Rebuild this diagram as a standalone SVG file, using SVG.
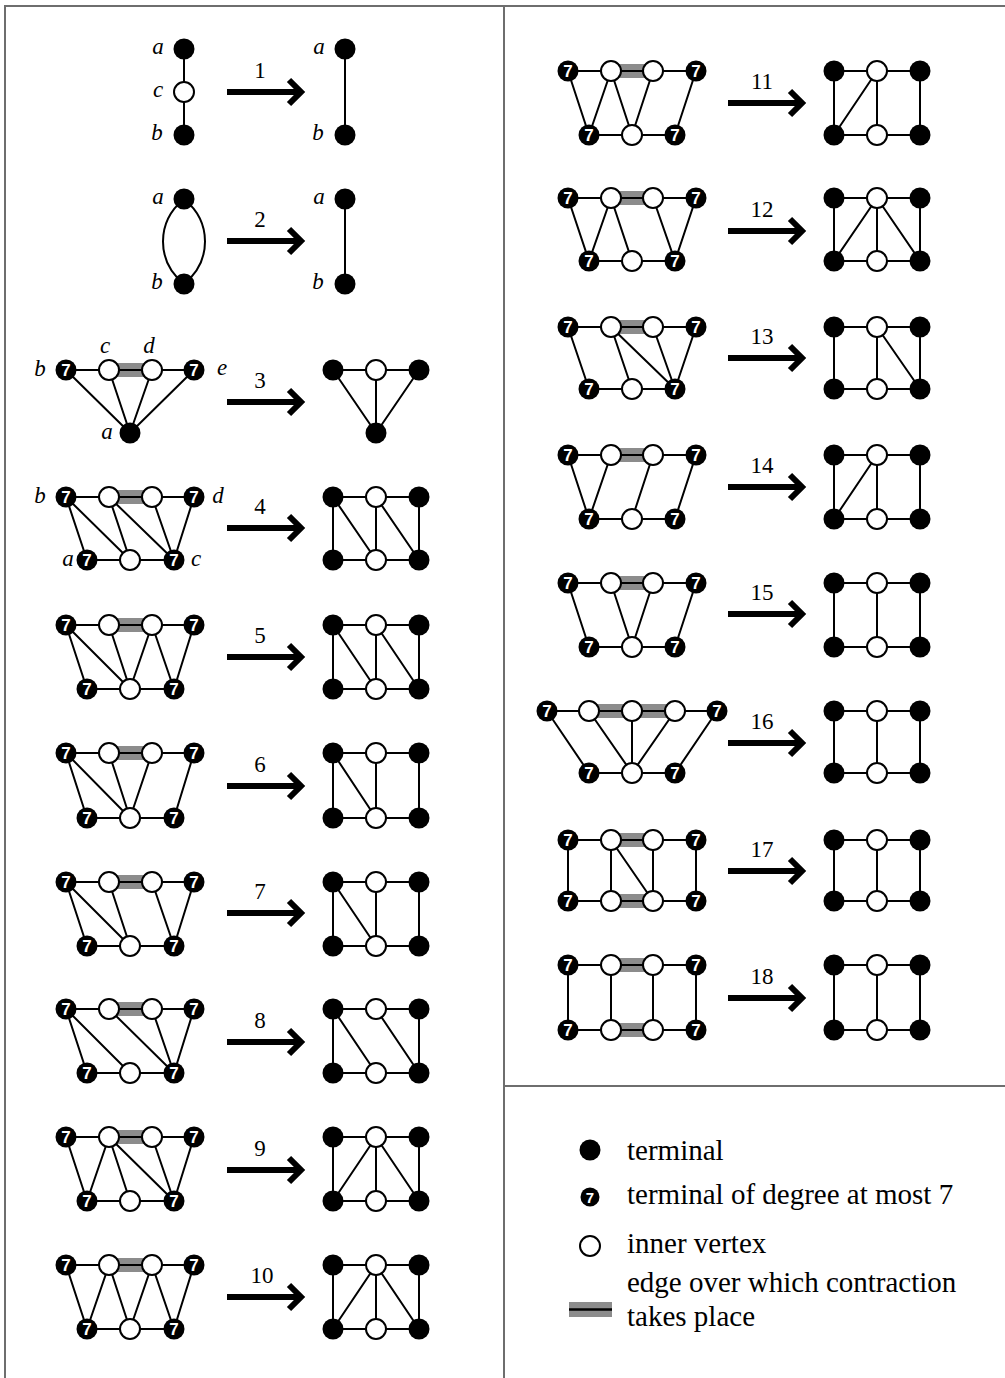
<svg xmlns="http://www.w3.org/2000/svg" xmlns:xlink="http://www.w3.org/1999/xlink" width="1005" height="1378" viewBox="0 0 1005 1378">
<style>
  .frame { fill: none; stroke: #6e6e6e; stroke-width: 2; }
  .ed { fill: none; stroke: #000; stroke-width: 2; }
  .band { fill: #8c8c8c; }
  .ar { fill: none; stroke: #000; stroke-width: 6; stroke-linejoin: miter; }
  .k circle { fill: #000; }
  .w circle { fill: #fff; stroke: #000; stroke-width: 2; }
  .k7 circle { fill: #000; }
  .k7 text { fill: #fff; font-family: "Liberation Sans", Arial, sans-serif; font-weight: bold; font-size: 17px; text-anchor: middle; }
  .num { font-family: "Liberation Serif", "Times New Roman", serif; font-size: 23px; text-anchor: middle; }
  .var { font-family: "Liberation Serif", "Times New Roman", serif; font-style: italic; font-size: 23px; text-anchor: middle; }
  .leg { font-family: "Liberation Serif", "Times New Roman", serif; font-size: 29px; }
</style>
<defs>
  <g id="arr"><path class="ar" d="M0,0H71 M62,-12L74,0L62,12"/></g>
</defs>
<rect width="1005" height="1378" fill="#fff"/>
<path class="frame" d="M5,1378V6H1005 M504,6V1378 M504,1086H1005"/>

<!-- edges and contraction bands -->
<g id="connectors">
  <!-- rule 1 -->
  <path class="ed" d="M184,49V135 M345,49V135"/>
  <!-- rule 2 -->
  <path class="ed" d="M184,199C156,222 156,261 184,284 M184,199C212,222 212,261 184,284 M345,199V284"/>
  <!-- rule 3 -->
  <rect class="band" x="109" y="363" width="43" height="14"/>
  <path class="ed" d="M66,370H194 M66,370L130,433 M109,370L130,433 M152,370L130,433 M194,370L130,433"/>
  <path class="ed" d="M333,370H419 M333,370L376,433 M376,370V433 M419,370L376,433"/>
  <!-- rule 4 -->
  <rect class="band" x="109" y="490" width="43" height="14"/>
  <path class="ed" d="M66,497H194 M87,560H174 M66,497L87,560 M66,497L130,560 M109,497L130,560 M109,497L174,560 M152,497L174,560 M194,497L174,560"/>
  <path class="ed" d="M333,497H419 M333,560H419 M333,497V560 M419,497V560 M376,497V560 M333,497L376,560 M376,497L419,560"/>
  <!-- rule 5 -->
  <rect class="band" x="109" y="618" width="43" height="14"/>
  <path class="ed" d="M66,625H194 M87,689H174 M66,625L87,689 M66,625L130,689 M109,625L130,689 M152,625L130,689 M152,625L174,689 M194,625L174,689"/>
  <path class="ed" d="M333,625H419 M333,689H419 M333,625V689 M419,625V689 M376,625V689 M333,625L376,689 M376,625L419,689"/>
  <!-- rule 6 -->
  <rect class="band" x="109" y="746" width="43" height="14"/>
  <path class="ed" d="M66,753H194 M87,818H174 M66,753L87,818 M66,753L130,818 M109,753L130,818 M152,753L130,818 M194,753L174,818"/>
  <path class="ed" d="M333,753H419 M333,818H419 M333,753V818 M419,753V818 M376,753V818 M333,753L376,818"/>
  <!-- rule 7 -->
  <rect class="band" x="109" y="875" width="43" height="14"/>
  <path class="ed" d="M66,882H194 M87,946H174 M66,882L87,946 M66,882L130,946 M109,882L130,946 M152,882L174,946 M194,882L174,946"/>
  <path class="ed" d="M333,882H419 M333,946H419 M333,882V946 M419,882V946 M376,882V946 M333,882L376,946"/>
  <!-- rule 8 -->
  <rect class="band" x="109" y="1002" width="43" height="14"/>
  <path class="ed" d="M66,1009H194 M87,1073H174 M66,1009L87,1073 M66,1009L130,1073 M109,1009L174,1073 M152,1009L174,1073 M194,1009L174,1073"/>
  <path class="ed" d="M333,1009H419 M333,1073H419 M333,1009V1073 M419,1009V1073 M333,1009L376,1073 M376,1009L419,1073"/>
  <!-- rule 9 -->
  <rect class="band" x="109" y="1130" width="43" height="14"/>
  <path class="ed" d="M66,1137H194 M87,1201H174 M66,1137L87,1201 M109,1137L87,1201 M109,1137L130,1201 M109,1137L174,1201 M152,1137L174,1201 M194,1137L174,1201"/>
  <path class="ed" d="M333,1137H419 M333,1201H419 M333,1137V1201 M419,1137V1201 M376,1137V1201 M376,1137L333,1201 M376,1137L419,1201"/>
  <!-- rule 10 -->
  <rect class="band" x="109" y="1258" width="43" height="14"/>
  <path class="ed" d="M66,1265H194 M87,1329H174 M66,1265L87,1329 M109,1265L87,1329 M109,1265L130,1329 M152,1265L130,1329 M152,1265L174,1329 M194,1265L174,1329"/>
  <path class="ed" d="M333,1265H419 M333,1329H419 M333,1265V1329 M419,1265V1329 M376,1265V1329 M376,1265L333,1329 M376,1265L419,1329"/>
  <!-- rule 11 -->
  <rect class="band" x="611" y="64" width="42" height="14"/>
  <path class="ed" d="M568,71H696 M589,135H675 M568,71L589,135 M611,71L589,135 M611,71L632,135 M653,71L632,135 M696,71L675,135"/>
  <path class="ed" d="M834,71H920 M834,135H920 M834,71V135 M920,71V135 M877,71V135 M877,71L834,135"/>
  <!-- rule 12 -->
  <rect class="band" x="611" y="191" width="42" height="14"/>
  <path class="ed" d="M568,198H696 M589,261H675 M568,198L589,261 M611,198L589,261 M611,198L632,261 M653,198L675,261 M696,198L675,261"/>
  <path class="ed" d="M834,198H920 M834,261H920 M834,198V261 M920,198V261 M877,198V261 M877,198L834,261 M877,198L920,261"/>
  <!-- rule 13 -->
  <rect class="band" x="611" y="320" width="42" height="14"/>
  <path class="ed" d="M568,327H696 M589,389H675 M568,327L589,389 M611,327L632,389 M611,327L675,389 M653,327L675,389 M696,327L675,389"/>
  <path class="ed" d="M834,327H920 M834,389H920 M834,327V389 M920,327V389 M877,327V389 M877,327L920,389"/>
  <!-- rule 14 -->
  <rect class="band" x="611" y="448" width="42" height="14"/>
  <path class="ed" d="M568,455H696 M589,519H675 M568,455L589,519 M611,455L589,519 M653,455L632,519 M696,455L675,519"/>
  <path class="ed" d="M834,455H920 M834,519H920 M834,455V519 M920,455V519 M877,455V519 M877,455L834,519"/>
  <!-- rule 15 -->
  <rect class="band" x="611" y="576" width="42" height="14"/>
  <path class="ed" d="M568,583H696 M589,647H675 M568,583L589,647 M611,583L632,647 M653,583L632,647 M696,583L675,647"/>
  <path class="ed" d="M834,583H920 M834,647H920 M834,583V647 M920,583V647 M877,583V647"/>
  <!-- rule 16 -->
  <rect class="band" x="589" y="704" width="86" height="14"/>
  <path class="ed" d="M547,711H717 M589,773H675 M547,711L589,773 M589,711L632,773 M632,711V773 M675,711L632,773 M717,711L675,773"/>
  <path class="ed" d="M834,711H920 M834,773H920 M834,711V773 M920,711V773 M877,711V773"/>
  <!-- rule 17 -->
  <rect class="band" x="611" y="833" width="42" height="14"/>
  <rect class="band" x="611" y="894" width="42" height="14"/>
  <path class="ed" d="M568,840H696 M568,901H696 M568,840V901 M611,840V901 M611,840L653,901 M653,840V901 M696,840V901"/>
  <path class="ed" d="M834,840H920 M834,901H920 M834,840V901 M920,840V901 M877,840V901"/>
  <!-- rule 18 -->
  <rect class="band" x="611" y="958" width="42" height="14"/>
  <rect class="band" x="611" y="1023" width="42" height="14"/>
  <path class="ed" d="M568,965H696 M568,1030H696 M568,965V1030 M611,965V1030 M653,965V1030 M696,965V1030"/>
  <path class="ed" d="M834,965H920 M834,1030H920 M834,965V1030 M920,965V1030 M877,965V1030"/>
</g>

<!-- rule arrows -->
<g id="arrows">
  <use xlink:href="#arr" x="227" y="92"/>
  <use xlink:href="#arr" x="227" y="241"/>
  <use xlink:href="#arr" x="227" y="402"/>
  <use xlink:href="#arr" x="227" y="528"/>
  <use xlink:href="#arr" x="227" y="657"/>
  <use xlink:href="#arr" x="227" y="786"/>
  <use xlink:href="#arr" x="227" y="913"/>
  <use xlink:href="#arr" x="227" y="1042"/>
  <use xlink:href="#arr" x="227" y="1170"/>
  <use xlink:href="#arr" x="227" y="1297"/>
  <use xlink:href="#arr" x="728" y="103"/>
  <use xlink:href="#arr" x="728" y="231"/>
  <use xlink:href="#arr" x="728" y="358"/>
  <use xlink:href="#arr" x="728" y="487"/>
  <use xlink:href="#arr" x="728" y="614"/>
  <use xlink:href="#arr" x="728" y="743"/>
  <use xlink:href="#arr" x="728" y="871"/>
  <use xlink:href="#arr" x="728" y="998"/>
</g>

<!-- rule numbers -->
<g id="rule-numbers">
  <text class="num" x="260" y="78">1</text>
  <text class="num" x="260" y="227">2</text>
  <text class="num" x="260" y="388">3</text>
  <text class="num" x="260" y="514">4</text>
  <text class="num" x="260" y="643">5</text>
  <text class="num" x="260" y="772">6</text>
  <text class="num" x="260" y="899">7</text>
  <text class="num" x="260" y="1028">8</text>
  <text class="num" x="260" y="1156">9</text>
  <text class="num" x="262" y="1283">10</text>
  <text class="num" x="762" y="89">11</text>
  <text class="num" x="762" y="217">12</text>
  <text class="num" x="762" y="344">13</text>
  <text class="num" x="762" y="473">14</text>
  <text class="num" x="762" y="600">15</text>
  <text class="num" x="762" y="729">16</text>
  <text class="num" x="762" y="857">17</text>
  <text class="num" x="762" y="984">18</text>
</g>

<!-- vertex names -->
<g id="vertex-names">
  <text class="var" x="158" y="54">a</text>
  <text class="var" x="158" y="97">c</text>
  <text class="var" x="157" y="140">b</text>
  <text class="var" x="319" y="54">a</text>
  <text class="var" x="318" y="140">b</text>
  <text class="var" x="158" y="204">a</text>
  <text class="var" x="157" y="289">b</text>
  <text class="var" x="319" y="204">a</text>
  <text class="var" x="318" y="289">b</text>
  <text class="var" x="40" y="376">b</text>
  <text class="var" x="105" y="353">c</text>
  <text class="var" x="149" y="353">d</text>
  <text class="var" x="222" y="375">e</text>
  <text class="var" x="107" y="439">a</text>
  <text class="var" x="40" y="503">b</text>
  <text class="var" x="218" y="503">d</text>
  <text class="var" x="68" y="566">a</text>
  <text class="var" x="196" y="566">c</text>
</g>

<!-- rule 1 -->
<g id="n1-a" class="k"><circle cx="184" cy="49" r="10.5"/></g>
<g id="n1-c" class="w"><circle cx="184" cy="92" r="10"/></g>
<g id="n1-b" class="k"><circle cx="184" cy="135" r="10.5"/></g>
<g id="n1r-a" class="k"><circle cx="345" cy="49" r="10.5"/></g>
<g id="n1r-b" class="k"><circle cx="345" cy="135" r="10.5"/></g>
<!-- rule 2 -->
<g id="n2-a" class="k"><circle cx="184" cy="199" r="10.5"/></g>
<g id="n2-b" class="k"><circle cx="184" cy="284" r="10.5"/></g>
<g id="n2r-a" class="k"><circle cx="345" cy="199" r="10.5"/></g>
<g id="n2r-b" class="k"><circle cx="345" cy="284" r="10.5"/></g>
<!-- rule 3 -->
<g id="n3-b" class="k7"><circle cx="66" cy="370" r="10.5"/><text x="66" y="376">7</text></g>
<g id="n3-c" class="w"><circle cx="109" cy="370" r="10"/></g>
<g id="n3-d" class="w"><circle cx="152" cy="370" r="10"/></g>
<g id="n3-e" class="k7"><circle cx="194" cy="370" r="10.5"/><text x="194" y="376">7</text></g>
<g id="n3-a" class="k"><circle cx="130" cy="433" r="10.5"/></g>
<g id="n3r-l" class="k"><circle cx="333" cy="370" r="10.5"/></g>
<g id="n3r-m" class="w"><circle cx="376" cy="370" r="10"/></g>
<g id="n3r-r" class="k"><circle cx="419" cy="370" r="10.5"/></g>
<g id="n3r-a" class="k"><circle cx="376" cy="433" r="10.5"/></g>
<!-- rule 4 -->
<g id="n4-t1" class="k7"><circle cx="66" cy="497" r="10.5"/><text x="66" y="503">7</text></g>
<g id="n4-t2" class="w"><circle cx="109" cy="497" r="10"/></g>
<g id="n4-t3" class="w"><circle cx="152" cy="497" r="10"/></g>
<g id="n4-t4" class="k7"><circle cx="194" cy="497" r="10.5"/><text x="194" y="503">7</text></g>
<g id="n4-b1" class="k7"><circle cx="87" cy="560" r="10.5"/><text x="87" y="566">7</text></g>
<g id="n4-b2" class="w"><circle cx="130" cy="560" r="10"/></g>
<g id="n4-b3" class="k7"><circle cx="174" cy="560" r="10.5"/><text x="174" y="566">7</text></g>
<g id="n4r-tl" class="k"><circle cx="333" cy="497" r="10.5"/></g>
<g id="n4r-tm" class="w"><circle cx="376" cy="497" r="10"/></g>
<g id="n4r-tr" class="k"><circle cx="419" cy="497" r="10.5"/></g>
<g id="n4r-bl" class="k"><circle cx="333" cy="560" r="10.5"/></g>
<g id="n4r-bm" class="w"><circle cx="376" cy="560" r="10"/></g>
<g id="n4r-br" class="k"><circle cx="419" cy="560" r="10.5"/></g>
<!-- rule 5 -->
<g id="n5-t1" class="k7"><circle cx="66" cy="625" r="10.5"/><text x="66" y="631">7</text></g>
<g id="n5-t2" class="w"><circle cx="109" cy="625" r="10"/></g>
<g id="n5-t3" class="w"><circle cx="152" cy="625" r="10"/></g>
<g id="n5-t4" class="k7"><circle cx="194" cy="625" r="10.5"/><text x="194" y="631">7</text></g>
<g id="n5-b1" class="k7"><circle cx="87" cy="689" r="10.5"/><text x="87" y="695">7</text></g>
<g id="n5-b2" class="w"><circle cx="130" cy="689" r="10"/></g>
<g id="n5-b3" class="k7"><circle cx="174" cy="689" r="10.5"/><text x="174" y="695">7</text></g>
<g id="n5r-tl" class="k"><circle cx="333" cy="625" r="10.5"/></g>
<g id="n5r-tm" class="w"><circle cx="376" cy="625" r="10"/></g>
<g id="n5r-tr" class="k"><circle cx="419" cy="625" r="10.5"/></g>
<g id="n5r-bl" class="k"><circle cx="333" cy="689" r="10.5"/></g>
<g id="n5r-bm" class="w"><circle cx="376" cy="689" r="10"/></g>
<g id="n5r-br" class="k"><circle cx="419" cy="689" r="10.5"/></g>
<!-- rule 6 -->
<g id="n6-t1" class="k7"><circle cx="66" cy="753" r="10.5"/><text x="66" y="759">7</text></g>
<g id="n6-t2" class="w"><circle cx="109" cy="753" r="10"/></g>
<g id="n6-t3" class="w"><circle cx="152" cy="753" r="10"/></g>
<g id="n6-t4" class="k7"><circle cx="194" cy="753" r="10.5"/><text x="194" y="759">7</text></g>
<g id="n6-b1" class="k7"><circle cx="87" cy="818" r="10.5"/><text x="87" y="824">7</text></g>
<g id="n6-b2" class="w"><circle cx="130" cy="818" r="10"/></g>
<g id="n6-b3" class="k7"><circle cx="174" cy="818" r="10.5"/><text x="174" y="824">7</text></g>
<g id="n6r-tl" class="k"><circle cx="333" cy="753" r="10.5"/></g>
<g id="n6r-tm" class="w"><circle cx="376" cy="753" r="10"/></g>
<g id="n6r-tr" class="k"><circle cx="419" cy="753" r="10.5"/></g>
<g id="n6r-bl" class="k"><circle cx="333" cy="818" r="10.5"/></g>
<g id="n6r-bm" class="w"><circle cx="376" cy="818" r="10"/></g>
<g id="n6r-br" class="k"><circle cx="419" cy="818" r="10.5"/></g>
<!-- rule 7 -->
<g id="n7-t1" class="k7"><circle cx="66" cy="882" r="10.5"/><text x="66" y="888">7</text></g>
<g id="n7-t2" class="w"><circle cx="109" cy="882" r="10"/></g>
<g id="n7-t3" class="w"><circle cx="152" cy="882" r="10"/></g>
<g id="n7-t4" class="k7"><circle cx="194" cy="882" r="10.5"/><text x="194" y="888">7</text></g>
<g id="n7-b1" class="k7"><circle cx="87" cy="946" r="10.5"/><text x="87" y="952">7</text></g>
<g id="n7-b2" class="w"><circle cx="130" cy="946" r="10"/></g>
<g id="n7-b3" class="k7"><circle cx="174" cy="946" r="10.5"/><text x="174" y="952">7</text></g>
<g id="n7r-tl" class="k"><circle cx="333" cy="882" r="10.5"/></g>
<g id="n7r-tm" class="w"><circle cx="376" cy="882" r="10"/></g>
<g id="n7r-tr" class="k"><circle cx="419" cy="882" r="10.5"/></g>
<g id="n7r-bl" class="k"><circle cx="333" cy="946" r="10.5"/></g>
<g id="n7r-bm" class="w"><circle cx="376" cy="946" r="10"/></g>
<g id="n7r-br" class="k"><circle cx="419" cy="946" r="10.5"/></g>
<!-- rule 8 -->
<g id="n8-t1" class="k7"><circle cx="66" cy="1009" r="10.5"/><text x="66" y="1015">7</text></g>
<g id="n8-t2" class="w"><circle cx="109" cy="1009" r="10"/></g>
<g id="n8-t3" class="w"><circle cx="152" cy="1009" r="10"/></g>
<g id="n8-t4" class="k7"><circle cx="194" cy="1009" r="10.5"/><text x="194" y="1015">7</text></g>
<g id="n8-b1" class="k7"><circle cx="87" cy="1073" r="10.5"/><text x="87" y="1079">7</text></g>
<g id="n8-b2" class="w"><circle cx="130" cy="1073" r="10"/></g>
<g id="n8-b3" class="k7"><circle cx="174" cy="1073" r="10.5"/><text x="174" y="1079">7</text></g>
<g id="n8r-tl" class="k"><circle cx="333" cy="1009" r="10.5"/></g>
<g id="n8r-tm" class="w"><circle cx="376" cy="1009" r="10"/></g>
<g id="n8r-tr" class="k"><circle cx="419" cy="1009" r="10.5"/></g>
<g id="n8r-bl" class="k"><circle cx="333" cy="1073" r="10.5"/></g>
<g id="n8r-bm" class="w"><circle cx="376" cy="1073" r="10"/></g>
<g id="n8r-br" class="k"><circle cx="419" cy="1073" r="10.5"/></g>
<!-- rule 9 -->
<g id="n9-t1" class="k7"><circle cx="66" cy="1137" r="10.5"/><text x="66" y="1143">7</text></g>
<g id="n9-t2" class="w"><circle cx="109" cy="1137" r="10"/></g>
<g id="n9-t3" class="w"><circle cx="152" cy="1137" r="10"/></g>
<g id="n9-t4" class="k7"><circle cx="194" cy="1137" r="10.5"/><text x="194" y="1143">7</text></g>
<g id="n9-b1" class="k7"><circle cx="87" cy="1201" r="10.5"/><text x="87" y="1207">7</text></g>
<g id="n9-b2" class="w"><circle cx="130" cy="1201" r="10"/></g>
<g id="n9-b3" class="k7"><circle cx="174" cy="1201" r="10.5"/><text x="174" y="1207">7</text></g>
<g id="n9r-tl" class="k"><circle cx="333" cy="1137" r="10.5"/></g>
<g id="n9r-tm" class="w"><circle cx="376" cy="1137" r="10"/></g>
<g id="n9r-tr" class="k"><circle cx="419" cy="1137" r="10.5"/></g>
<g id="n9r-bl" class="k"><circle cx="333" cy="1201" r="10.5"/></g>
<g id="n9r-bm" class="w"><circle cx="376" cy="1201" r="10"/></g>
<g id="n9r-br" class="k"><circle cx="419" cy="1201" r="10.5"/></g>
<!-- rule 10 -->
<g id="n10-t1" class="k7"><circle cx="66" cy="1265" r="10.5"/><text x="66" y="1271">7</text></g>
<g id="n10-t2" class="w"><circle cx="109" cy="1265" r="10"/></g>
<g id="n10-t3" class="w"><circle cx="152" cy="1265" r="10"/></g>
<g id="n10-t4" class="k7"><circle cx="194" cy="1265" r="10.5"/><text x="194" y="1271">7</text></g>
<g id="n10-b1" class="k7"><circle cx="87" cy="1329" r="10.5"/><text x="87" y="1335">7</text></g>
<g id="n10-b2" class="w"><circle cx="130" cy="1329" r="10"/></g>
<g id="n10-b3" class="k7"><circle cx="174" cy="1329" r="10.5"/><text x="174" y="1335">7</text></g>
<g id="n10r-tl" class="k"><circle cx="333" cy="1265" r="10.5"/></g>
<g id="n10r-tm" class="w"><circle cx="376" cy="1265" r="10"/></g>
<g id="n10r-tr" class="k"><circle cx="419" cy="1265" r="10.5"/></g>
<g id="n10r-bl" class="k"><circle cx="333" cy="1329" r="10.5"/></g>
<g id="n10r-bm" class="w"><circle cx="376" cy="1329" r="10"/></g>
<g id="n10r-br" class="k"><circle cx="419" cy="1329" r="10.5"/></g>
<!-- rule 11 -->
<g id="n11-t1" class="k7"><circle cx="568" cy="71" r="10.5"/><text x="568" y="77">7</text></g>
<g id="n11-t2" class="w"><circle cx="611" cy="71" r="10"/></g>
<g id="n11-t3" class="w"><circle cx="653" cy="71" r="10"/></g>
<g id="n11-t4" class="k7"><circle cx="696" cy="71" r="10.5"/><text x="696" y="77">7</text></g>
<g id="n11-b1" class="k7"><circle cx="589" cy="135" r="10.5"/><text x="589" y="141">7</text></g>
<g id="n11-b2" class="w"><circle cx="632" cy="135" r="10"/></g>
<g id="n11-b3" class="k7"><circle cx="675" cy="135" r="10.5"/><text x="675" y="141">7</text></g>
<g id="n11r-tl" class="k"><circle cx="834" cy="71" r="10.5"/></g>
<g id="n11r-tm" class="w"><circle cx="877" cy="71" r="10"/></g>
<g id="n11r-tr" class="k"><circle cx="920" cy="71" r="10.5"/></g>
<g id="n11r-bl" class="k"><circle cx="834" cy="135" r="10.5"/></g>
<g id="n11r-bm" class="w"><circle cx="877" cy="135" r="10"/></g>
<g id="n11r-br" class="k"><circle cx="920" cy="135" r="10.5"/></g>
<!-- rule 12 -->
<g id="n12-t1" class="k7"><circle cx="568" cy="198" r="10.5"/><text x="568" y="204">7</text></g>
<g id="n12-t2" class="w"><circle cx="611" cy="198" r="10"/></g>
<g id="n12-t3" class="w"><circle cx="653" cy="198" r="10"/></g>
<g id="n12-t4" class="k7"><circle cx="696" cy="198" r="10.5"/><text x="696" y="204">7</text></g>
<g id="n12-b1" class="k7"><circle cx="589" cy="261" r="10.5"/><text x="589" y="267">7</text></g>
<g id="n12-b2" class="w"><circle cx="632" cy="261" r="10"/></g>
<g id="n12-b3" class="k7"><circle cx="675" cy="261" r="10.5"/><text x="675" y="267">7</text></g>
<g id="n12r-tl" class="k"><circle cx="834" cy="198" r="10.5"/></g>
<g id="n12r-tm" class="w"><circle cx="877" cy="198" r="10"/></g>
<g id="n12r-tr" class="k"><circle cx="920" cy="198" r="10.5"/></g>
<g id="n12r-bl" class="k"><circle cx="834" cy="261" r="10.5"/></g>
<g id="n12r-bm" class="w"><circle cx="877" cy="261" r="10"/></g>
<g id="n12r-br" class="k"><circle cx="920" cy="261" r="10.5"/></g>
<!-- rule 13 -->
<g id="n13-t1" class="k7"><circle cx="568" cy="327" r="10.5"/><text x="568" y="333">7</text></g>
<g id="n13-t2" class="w"><circle cx="611" cy="327" r="10"/></g>
<g id="n13-t3" class="w"><circle cx="653" cy="327" r="10"/></g>
<g id="n13-t4" class="k7"><circle cx="696" cy="327" r="10.5"/><text x="696" y="333">7</text></g>
<g id="n13-b1" class="k7"><circle cx="589" cy="389" r="10.5"/><text x="589" y="395">7</text></g>
<g id="n13-b2" class="w"><circle cx="632" cy="389" r="10"/></g>
<g id="n13-b3" class="k7"><circle cx="675" cy="389" r="10.5"/><text x="675" y="395">7</text></g>
<g id="n13r-tl" class="k"><circle cx="834" cy="327" r="10.5"/></g>
<g id="n13r-tm" class="w"><circle cx="877" cy="327" r="10"/></g>
<g id="n13r-tr" class="k"><circle cx="920" cy="327" r="10.5"/></g>
<g id="n13r-bl" class="k"><circle cx="834" cy="389" r="10.5"/></g>
<g id="n13r-bm" class="w"><circle cx="877" cy="389" r="10"/></g>
<g id="n13r-br" class="k"><circle cx="920" cy="389" r="10.5"/></g>
<!-- rule 14 -->
<g id="n14-t1" class="k7"><circle cx="568" cy="455" r="10.5"/><text x="568" y="461">7</text></g>
<g id="n14-t2" class="w"><circle cx="611" cy="455" r="10"/></g>
<g id="n14-t3" class="w"><circle cx="653" cy="455" r="10"/></g>
<g id="n14-t4" class="k7"><circle cx="696" cy="455" r="10.5"/><text x="696" y="461">7</text></g>
<g id="n14-b1" class="k7"><circle cx="589" cy="519" r="10.5"/><text x="589" y="525">7</text></g>
<g id="n14-b2" class="w"><circle cx="632" cy="519" r="10"/></g>
<g id="n14-b3" class="k7"><circle cx="675" cy="519" r="10.5"/><text x="675" y="525">7</text></g>
<g id="n14r-tl" class="k"><circle cx="834" cy="455" r="10.5"/></g>
<g id="n14r-tm" class="w"><circle cx="877" cy="455" r="10"/></g>
<g id="n14r-tr" class="k"><circle cx="920" cy="455" r="10.5"/></g>
<g id="n14r-bl" class="k"><circle cx="834" cy="519" r="10.5"/></g>
<g id="n14r-bm" class="w"><circle cx="877" cy="519" r="10"/></g>
<g id="n14r-br" class="k"><circle cx="920" cy="519" r="10.5"/></g>
<!-- rule 15 -->
<g id="n15-t1" class="k7"><circle cx="568" cy="583" r="10.5"/><text x="568" y="589">7</text></g>
<g id="n15-t2" class="w"><circle cx="611" cy="583" r="10"/></g>
<g id="n15-t3" class="w"><circle cx="653" cy="583" r="10"/></g>
<g id="n15-t4" class="k7"><circle cx="696" cy="583" r="10.5"/><text x="696" y="589">7</text></g>
<g id="n15-b1" class="k7"><circle cx="589" cy="647" r="10.5"/><text x="589" y="653">7</text></g>
<g id="n15-b2" class="w"><circle cx="632" cy="647" r="10"/></g>
<g id="n15-b3" class="k7"><circle cx="675" cy="647" r="10.5"/><text x="675" y="653">7</text></g>
<g id="n15r-tl" class="k"><circle cx="834" cy="583" r="10.5"/></g>
<g id="n15r-tm" class="w"><circle cx="877" cy="583" r="10"/></g>
<g id="n15r-tr" class="k"><circle cx="920" cy="583" r="10.5"/></g>
<g id="n15r-bl" class="k"><circle cx="834" cy="647" r="10.5"/></g>
<g id="n15r-bm" class="w"><circle cx="877" cy="647" r="10"/></g>
<g id="n15r-br" class="k"><circle cx="920" cy="647" r="10.5"/></g>
<!-- rule 16 -->
<g id="n16-t1" class="k7"><circle cx="547" cy="711" r="10.5"/><text x="547" y="717">7</text></g>
<g id="n16-t2" class="w"><circle cx="589" cy="711" r="10"/></g>
<g id="n16-t3" class="w"><circle cx="632" cy="711" r="10"/></g>
<g id="n16-t4" class="w"><circle cx="675" cy="711" r="10"/></g>
<g id="n16-t5" class="k7"><circle cx="717" cy="711" r="10.5"/><text x="717" y="717">7</text></g>
<g id="n16-b1" class="k7"><circle cx="589" cy="773" r="10.5"/><text x="589" y="779">7</text></g>
<g id="n16-b2" class="w"><circle cx="632" cy="773" r="10"/></g>
<g id="n16-b3" class="k7"><circle cx="675" cy="773" r="10.5"/><text x="675" y="779">7</text></g>
<g id="n16r-tl" class="k"><circle cx="834" cy="711" r="10.5"/></g>
<g id="n16r-tm" class="w"><circle cx="877" cy="711" r="10"/></g>
<g id="n16r-tr" class="k"><circle cx="920" cy="711" r="10.5"/></g>
<g id="n16r-bl" class="k"><circle cx="834" cy="773" r="10.5"/></g>
<g id="n16r-bm" class="w"><circle cx="877" cy="773" r="10"/></g>
<g id="n16r-br" class="k"><circle cx="920" cy="773" r="10.5"/></g>
<!-- rule 17 -->
<g id="n17-t1" class="k7"><circle cx="568" cy="840" r="10.5"/><text x="568" y="846">7</text></g>
<g id="n17-t2" class="w"><circle cx="611" cy="840" r="10"/></g>
<g id="n17-t3" class="w"><circle cx="653" cy="840" r="10"/></g>
<g id="n17-t4" class="k7"><circle cx="696" cy="840" r="10.5"/><text x="696" y="846">7</text></g>
<g id="n17-b1" class="k7"><circle cx="568" cy="901" r="10.5"/><text x="568" y="907">7</text></g>
<g id="n17-b2" class="w"><circle cx="611" cy="901" r="10"/></g>
<g id="n17-b3" class="w"><circle cx="653" cy="901" r="10"/></g>
<g id="n17-b4" class="k7"><circle cx="696" cy="901" r="10.5"/><text x="696" y="907">7</text></g>
<g id="n17r-tl" class="k"><circle cx="834" cy="840" r="10.5"/></g>
<g id="n17r-tm" class="w"><circle cx="877" cy="840" r="10"/></g>
<g id="n17r-tr" class="k"><circle cx="920" cy="840" r="10.5"/></g>
<g id="n17r-bl" class="k"><circle cx="834" cy="901" r="10.5"/></g>
<g id="n17r-bm" class="w"><circle cx="877" cy="901" r="10"/></g>
<g id="n17r-br" class="k"><circle cx="920" cy="901" r="10.5"/></g>
<!-- rule 18 -->
<g id="n18-t1" class="k7"><circle cx="568" cy="965" r="10.5"/><text x="568" y="971">7</text></g>
<g id="n18-t2" class="w"><circle cx="611" cy="965" r="10"/></g>
<g id="n18-t3" class="w"><circle cx="653" cy="965" r="10"/></g>
<g id="n18-t4" class="k7"><circle cx="696" cy="965" r="10.5"/><text x="696" y="971">7</text></g>
<g id="n18-b1" class="k7"><circle cx="568" cy="1030" r="10.5"/><text x="568" y="1036">7</text></g>
<g id="n18-b2" class="w"><circle cx="611" cy="1030" r="10"/></g>
<g id="n18-b3" class="w"><circle cx="653" cy="1030" r="10"/></g>
<g id="n18-b4" class="k7"><circle cx="696" cy="1030" r="10.5"/><text x="696" y="1036">7</text></g>
<g id="n18r-tl" class="k"><circle cx="834" cy="965" r="10.5"/></g>
<g id="n18r-tm" class="w"><circle cx="877" cy="965" r="10"/></g>
<g id="n18r-tr" class="k"><circle cx="920" cy="965" r="10.5"/></g>
<g id="n18r-bl" class="k"><circle cx="834" cy="1030" r="10.5"/></g>
<g id="n18r-bm" class="w"><circle cx="877" cy="1030" r="10"/></g>
<g id="n18r-br" class="k"><circle cx="920" cy="1030" r="10.5"/></g>

<!-- legend -->
<g id="legend">
  <g id="leg-terminal" class="k"><circle cx="590" cy="1150" r="10.5"/></g>
  <text class="leg" x="627" y="1160">terminal</text>
  <g id="leg-terminal7" class="k7"><circle cx="590" cy="1197" r="9.5"/><text x="590" y="1202.5" style="font-size:15px">7</text></g>
  <text class="leg" x="627" y="1204">terminal of degree at most 7</text>
  <g id="leg-inner" class="w"><circle cx="590" cy="1246" r="10"/></g>
  <text class="leg" x="627" y="1253">inner vertex</text>
  <g id="leg-contraction">
    <rect class="band" x="569" y="1302" width="43" height="15"/>
    <path class="ed" d="M569,1309.5H612" style="stroke-width:2.5"/>
  </g>
  <text class="leg" x="627" y="1292">edge over which contraction</text>
  <text class="leg" x="627" y="1326">takes place</text>
</g>
</svg>
